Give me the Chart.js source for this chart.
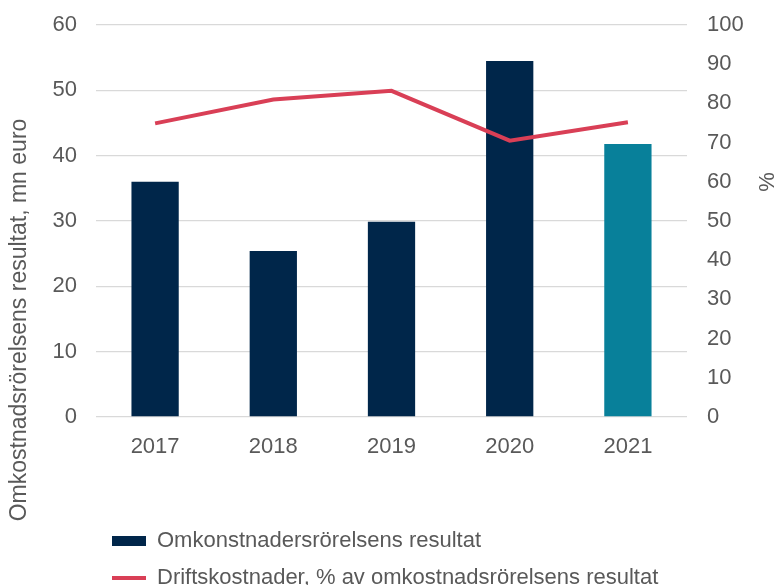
<!DOCTYPE html>
<html>
<head>
<meta charset="utf-8">
<script src="https://cdn.jsdelivr.net/npm/chart.js@4"></script>
<style>
  html, body { margin: 0; padding: 0; background: #fff; overflow: hidden; }
  #wrap { width: 779px; height: 585px; }
</style>
</head>
<body>
<div id="wrap"><canvas id="chart"></canvas></div>
<script>
const years = ["2017", "2018", "2019", "2020", "2021"];
const resultValues = [36.0, 25.4, 29.9, 54.5, 41.8];
const costPercent = [74.9, 81.0, 83.2, 70.5, 75.2];
const leftTicks = [0, 10, 20, 30, 40, 50, 60];
const rightTicks = [0, 10, 20, 30, 40, 50, 60, 70, 80, 90, 100];

const barLabel = "Omkonstnadersrörelsens resultat";
const lineLabel = "Driftskostnader, % av omkostnadsrörelsens resultat";
const leftTitle = "Omkostnadsrörelsens resultat, mn euro";
const rightTitle = "%";

const textColor = "#595959";
const gridColor = "#d9d9d9";
const fontFamily = "'Liberation Sans', Arial, sans-serif";

Chart.defaults.font.family = fontFamily;
Chart.defaults.font.size = 22;
Chart.defaults.color = textColor;

// axis titles sit off-centre in the original, so they are drawn by hand
const axisTitles = {
  id: "axisTitles",
  afterDraw(chart) {
    const ctx = chart.ctx;
    ctx.save();
    ctx.fillStyle = textColor;
    ctx.font = "23px " + fontFamily;
    ctx.textAlign = "center";
    ctx.textBaseline = "middle";
    ctx.translate(20, 320);
    ctx.rotate(-Math.PI / 2);
    ctx.fillText(leftTitle, 0, 0);
    ctx.restore();

    ctx.save();
    ctx.fillStyle = textColor;
    ctx.font = "22px " + fontFamily;
    ctx.textAlign = "center";
    ctx.textBaseline = "middle";
    ctx.translate(768, 182);
    ctx.rotate(-Math.PI / 2);
    ctx.fillText(rightTitle, 0, 0);
    ctx.restore();
  }
};

// legend is left aligned under the plot, not at the canvas edge
const legendPlace = {
  id: "legendPlace",
  afterLayout(chart) {
    if (chart.legend) {
      chart.legend.left = 97;
      chart.legend.top = 515;
    }
  }
};

const barColors = years.map((y, i) => (i === years.length - 1 ? "#08809a" : "#00264a"));

// small lineHeight keeps the tick labels from pushing the plot top down
const sideTickFont = { size: 22, lineHeight: 0.4 };

new Chart(document.getElementById("chart"), {
  type: "bar",
  data: {
    labels: years,
    datasets: [
      {
        type: "bar",
        label: barLabel,
        data: resultValues,
        backgroundColor: barColors,
        borderWidth: 0,
        barPercentage: 0.4,
        categoryPercentage: 1.0,
        pointStyle: "rect",
        yAxisID: "y",
        order: 2
      },
      {
        type: "line",
        label: lineLabel,
        data: costPercent,
        borderColor: "#d93f56",
        backgroundColor: "#d93f56",
        borderWidth: 4,
        pointRadius: 0,
        tension: 0,
        pointStyle: "line",
        yAxisID: "y1",
        order: 1
      }
    ]
  },
  options: {
    responsive: true,
    maintainAspectRatio: false,
    animation: false,
    layout: { padding: { top: 25, left: 0, right: 0, bottom: 0 } },
    plugins: {
      tooltip: { enabled: false },
      legend: {
        position: "bottom",
        align: "start",
        labels: {
          usePointStyle: true,
          pointStyleWidth: 34,
          boxHeight: 10,
          padding: 15,
          color: textColor,
          font: { size: 22 },
          sort: (a, b) => a.datasetIndex - b.datasetIndex
        }
      }
    },
    scales: {
      x: {
        grid: { display: false },
        border: { display: false },
        ticks: { padding: 9, color: textColor },
        afterFit: scale => { scale.height = 84; }
      },
      y: {
        position: "left",
        min: leftTicks[0],
        max: leftTicks[leftTicks.length - 1],
        afterBuildTicks: scale => { scale.ticks = leftTicks.map(v => ({ value: v })); },
        grid: { color: gridColor, lineWidth: 1.3, drawTicks: false },
        border: { display: false },
        ticks: { padding: 19, color: textColor, font: sideTickFont },
        afterFit: scale => { scale.width = 96; }
      },
      y1: {
        position: "right",
        min: rightTicks[0],
        max: rightTicks[rightTicks.length - 1],
        afterBuildTicks: scale => { scale.ticks = rightTicks.map(v => ({ value: v })); },
        grid: { display: false, drawTicks: false },
        border: { display: false },
        ticks: { padding: 20, color: textColor, font: sideTickFont },
        afterFit: scale => { scale.width = 92; }
      }
    }
  },
  plugins: [axisTitles, legendPlace]
});
</script>
</body>
</html>
